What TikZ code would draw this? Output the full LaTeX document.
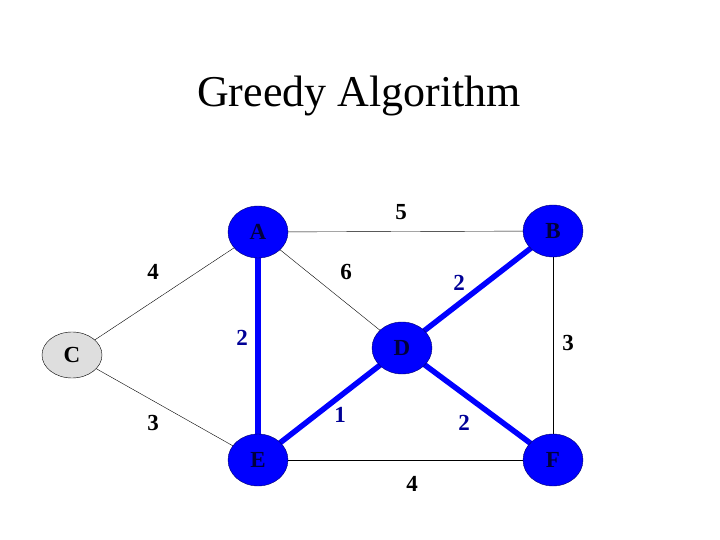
\documentclass[tikz,border=0pt]{standalone}
\usepackage{fontspec}
\setmainfont{Liberation Serif}
\usetikzlibrary{shapes.geometric}
\definecolor{navy}{RGB}{0,0,150}
\tikzset{
  vertex/.style={ellipse,draw=navy!70!black,fill=blue,minimum width=60pt,minimum height=52pt,inner sep=0pt,font=\fontsize{23}{23}\selectfont\bfseries,text=navy!40!black},
  light/.style={vertex,fill=black!13,draw=black,text=black,minimum height=46pt},
  wt/.style={font=\fontsize{23}{23}\selectfont\bfseries},
  tree/.style={line width=5.5pt,blue},
}
\begin{document}
\begin{tikzpicture}[x=1pt,y=-1pt]
\useasboundingbox (0,0) rectangle (720,540);
\node [anchor=base,font=\fontsize{44}{44}\selectfont] (title) at (359,107) {Greedy Algorithm};
% edges first, nodes on top
\coordinate (a) at (258,232);
\coordinate (b) at (553,231);
\coordinate (c) at (72,355);
\coordinate (d) at (402,348);
\coordinate (e) at (258,460);
\coordinate (f) at (553,460);
\draw [thin] (a) -- (b);
\draw [thin] (a) -- (c);
\draw [thin] (a) -- (d);
\draw [thin] (c) -- (e);
\draw [thin] (e) -- (f);
\draw [thin] (b) -- (f);
\draw [tree] (a) -- (e);
\draw [tree] (e) -- (d);
\draw [tree] (d) -- (b);
\draw [tree] (d) -- (f);
\node [vertex] (A) at (a) {A};
\node [vertex] (B) at (b) {B};
\node [light] (C) at (c) {C};
\node [vertex] (D) at (d) {D};
\node [vertex] (E) at (e) {E};
\node [vertex] (F) at (f) {F};
% weights
\node [wt] (wab) at (401,212) {5};
\node [wt] (wac) at (153,272) {4};
\node [wt] (wad) at (346,272) {6};
\node [wt,navy] (wbd) at (459,283) {2};
\node [wt,navy] (wae) at (242,338) {2};
\node [wt] (wbf) at (568,343) {3};
\node [wt] (wce) at (153,423) {3};
\node [wt,navy] (wde) at (340,415) {1};
\node [wt,navy] (wdf) at (464,423) {2};
\node [wt] (wef) at (412,484) {4};
\end{tikzpicture}
\end{document}
